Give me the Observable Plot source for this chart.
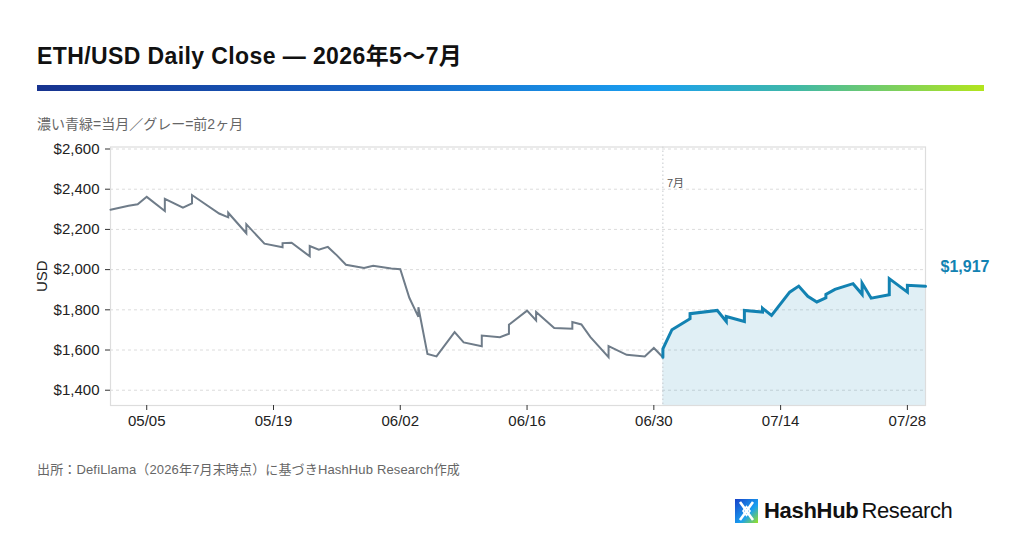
<!DOCTYPE html>
<html>
<head>
<meta charset="utf-8">
<script src="https://cdn.jsdelivr.net/npm/d3@7"></script>
<script src="https://cdn.jsdelivr.net/npm/@observablehq/plot@0.6"></script>
<style>
  html, body { margin: 0; padding: 0; background: #fff; }
  body { width: 1024px; height: 538px; position: relative; overflow: hidden;
         font-family: "Liberation Sans", "Noto Sans CJK JP", sans-serif; }
  .abs { position: absolute; white-space: nowrap; }
  #title { left: 37px; top: 37px; font-size: 23px; font-weight: bold; color: #111; letter-spacing: 0.4px; }
  #bar { left: 37px; top: 85px; width: 947px; height: 6px;
         background: linear-gradient(90deg, #17338f 0%, #1662c4 35%, #1a9ff0 65%, #3fb8a8 80%, #b3e51c 100%); }
  #subtitle { left: 37px; top: 113px; font-size: 14px; color: #666; }
  #chart { left: 0px; top: 130px; }
  #caption { left: 37px; top: 459px; font-size: 13px; color: #666; letter-spacing: 0.15px; }
  #logo { left: 735px; top: 498px; display: flex; align-items: center; }
  #logo .t1 { font-size: 22px; font-weight: bold; color: #111; margin-left: 6px; letter-spacing: -0.3px; }
  #logo .t2 { font-size: 22px; color: #111; margin-left: 3px; letter-spacing: -0.4px; }
</style>
</head>
<body>
<div id="title" class="abs">ETH/USD Daily Close — 2026年5〜7月</div>
<div id="bar" class="abs"></div>
<div id="subtitle" class="abs">濃い青緑=当月／グレー=前2ヶ月</div>
<div id="chart" class="abs"></div>
<div id="caption" class="abs">出所：DefiLlama（2026年7月末時点）に基づきHashHub Research作成</div>
<div id="logo" class="abs">
  <svg width="23" height="24" viewBox="0 0 23 24">
    <defs>
      <linearGradient id="lg" x1="0" y1="0" x2="1" y2="1">
        <stop offset="0%" stop-color="#1740c8"/>
        <stop offset="60%" stop-color="#1aa0f0"/>
        <stop offset="100%" stop-color="#9be21e"/>
      </linearGradient>
    </defs>
    <rect x="0" y="0" width="23" height="24" fill="url(#lg)"/>
    <path d="M5 3 L11.5 12 L5 21 M18 3 L11.5 12 L18 21" stroke="#fff" stroke-width="2.6" fill="none"/>
    <path d="M8 12 L11.5 7.5 L15 12 L11.5 16.5 Z" stroke="#fff" stroke-width="1.6" fill="none"/>
  </svg>
  <span class="t1">HashHub</span><span class="t2">Research</span>
</div>
<script>
// ---- data ----
const prevDates = ["2026-05-01","2026-05-03","2026-05-04","2026-05-05","2026-05-07","2026-05-07","2026-05-09","2026-05-10","2026-05-10","2026-05-13","2026-05-14","2026-05-14","2026-05-16","2026-05-16","2026-05-18","2026-05-20","2026-05-20","2026-05-21","2026-05-23","2026-05-23","2026-05-24","2026-05-25","2026-05-26","2026-05-27","2026-05-29","2026-05-30","2026-06-01","2026-06-02","2026-06-03","2026-06-04","2026-06-04","2026-06-05","2026-06-06","2026-06-08","2026-06-09","2026-06-11","2026-06-11","2026-06-13","2026-06-14","2026-06-14","2026-06-16","2026-06-17","2026-06-17","2026-06-19","2026-06-21","2026-06-21","2026-06-22","2026-06-23","2026-06-25","2026-06-25","2026-06-27","2026-06-29","2026-06-30","2026-07-01"];
const prevValues = [2298,2318,2325,2362,2292,2352,2308,2329,2371,2279,2260,2283,2181,2226,2129,2111,2132,2134,2066,2117,2099,2113,2071,2024,2008,2019,2005,2002,1860,1765,1813,1581,1568,1689,1638,1619,1672,1664,1681,1726,1796,1747,1789,1709,1706,1739,1727,1664,1564,1619,1576,1568,1610,1564];
const curDates = ["2026-07-01","2026-07-01","2026-07-02","2026-07-04","2026-07-04","2026-07-07","2026-07-08","2026-07-08","2026-07-10","2026-07-10","2026-07-12","2026-07-12","2026-07-13","2026-07-15","2026-07-16","2026-07-17","2026-07-18","2026-07-19","2026-07-19","2026-07-20","2026-07-22","2026-07-23","2026-07-23","2026-07-24","2026-07-26","2026-07-26","2026-07-28","2026-07-28","2026-07-30"];
const curValues = [1564,1606,1701,1756,1781,1797,1742,1767,1742,1797,1789,1808,1772,1888,1918,1867,1839,1860,1877,1902,1930,1877,1933,1858,1875,1955,1888,1922,1917];
const xTickLabels = ["05/05","05/19","06/02","06/16","06/30","07/14","07/28"];
const yTicks = [1400,1600,1800,2000,2200,2400,2600];
const monthStart = "2026-07-01";
const monthLabel = "7月";
const xDomain = ["2026-05-01","2026-07-30"];
const yDomain = [1324, 2610];

// ---- build tables ----
const parse = d3.utcParse("%Y-%m-%d");
const prev = prevDates.map((d, i) => ({date: parse(d), value: prevValues[i]}));
const cur = curDates.map((d, i) => ({date: parse(d), value: curValues[i]}));
const last = cur[cur.length - 1];
const xTicks = xTickLabels.map(s => parse("2026-" + s.replace("/", "-")));
const fmtUSD = v => "$" + d3.format(",")(v);
const blue = "#1282b2";
const gray = "#6f7c89";

const chart = Plot.plot({
  width: 1024,
  height: 310,
  marginTop: 16.5,
  marginBottom: 35,
  marginLeft: 110,
  marginRight: 99,
  style: {fontFamily: '"Liberation Sans", "Noto Sans CJK JP", sans-serif', fontSize: "15px", color: "#222", background: "transparent"},
  x: {type: "utc", domain: xDomain.map(parse)},
  y: {domain: yDomain},
  marks: [
    Plot.gridY(yTicks, {stroke: "#dcdcdc", strokeOpacity: 1, strokeDasharray: "3,3"}),
    Plot.areaY(cur, {x: "date", y1: () => yDomain[0], y2: "value", fill: blue, fillOpacity: 0.13}),
    Plot.ruleX([parse(monthStart)], {stroke: "#c4c8cc", strokeDasharray: "1.5,2.5", strokeWidth: 1}),
    Plot.text([monthLabel], {x: () => parse(monthStart), y: () => 2430, dx: 4, textAnchor: "start", fill: "#555", fontSize: 11}),
    Plot.frame({stroke: "#dddddd", strokeWidth: 1.2}),
    Plot.line(prev, {x: "date", y: "value", stroke: gray, strokeWidth: 2, strokeLinejoin: "miter", strokeMiterlimit: 4}),
    Plot.line(cur, {x: "date", y: "value", stroke: blue, strokeWidth: 3, strokeLinejoin: "miter", strokeMiterlimit: 4}),
    Plot.text([last], {x: "date", y: "value", text: d => fmtUSD(d.value), dx: 15, dy: -19, textAnchor: "start", fill: blue, fontWeight: "bold", fontSize: 16}),
    Plot.axisY(yTicks, {tickFormat: fmtUSD, tickSize: 5, tickPadding: 6, stroke: "#333", label: "USD", labelAnchor: "center", labelArrow: "none", labelOffset: 74, fontSize: 15}),
    Plot.axisX(xTicks, {tickFormat: d3.utcFormat("%m/%d"), tickSize: 5, tickPadding: 5, stroke: "#333", label: null, fontSize: 15})
  ]
});
document.getElementById("chart").appendChild(chart);
</script>
</body>
</html>
